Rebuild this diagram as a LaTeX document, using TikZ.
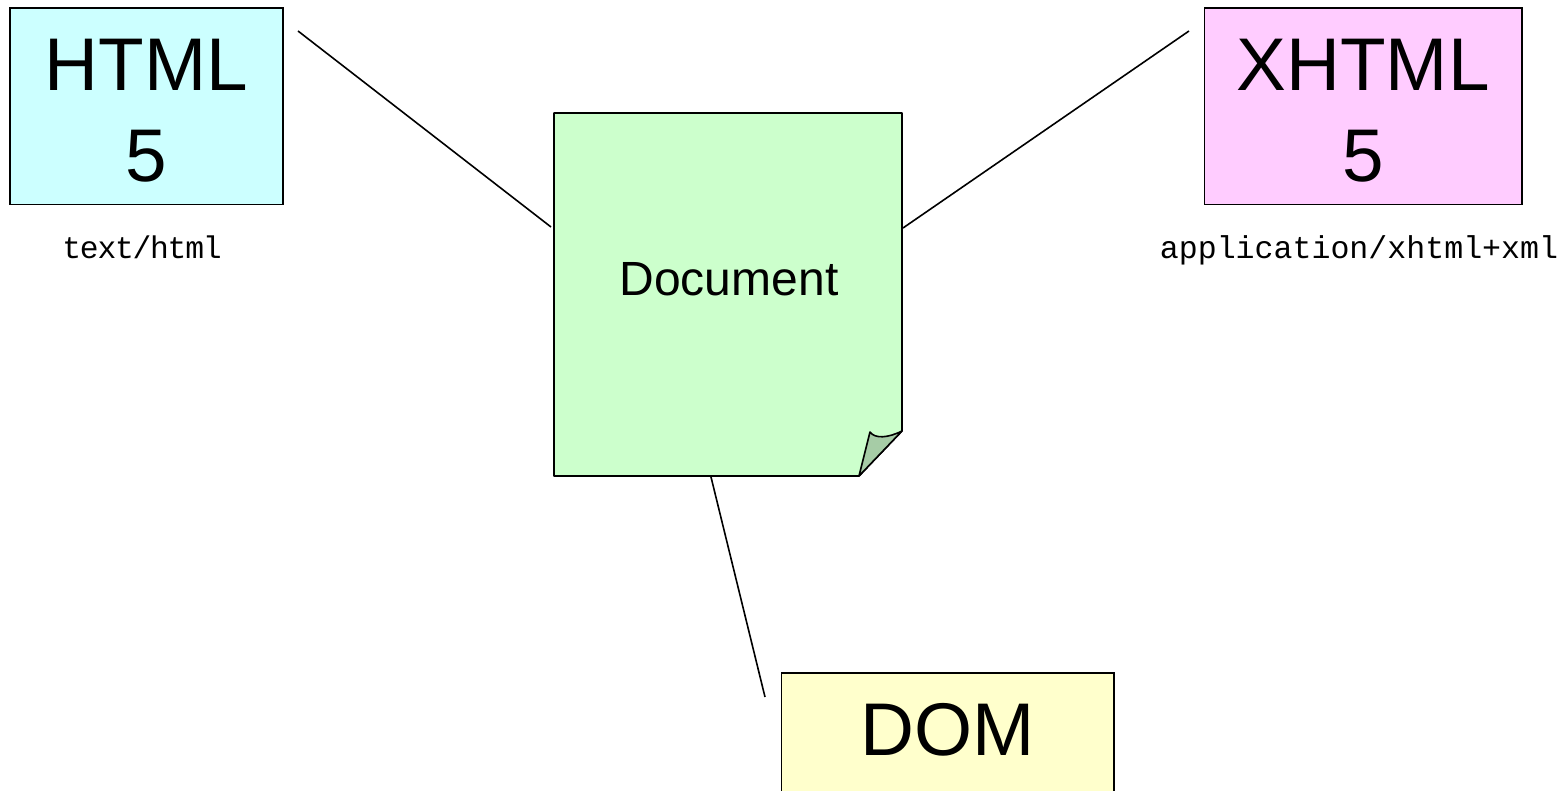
\documentclass[tikz,border=0pt]{standalone}
\usepackage{fontspec}
\setmainfont{Liberation Sans}
\newfontfamily\labelmono{Liberation Mono}
\newfontfamily\labelmonotight[LetterSpace=-4]{Liberation Mono}
\tikzset{
  px/.style={x=0.75pt,y=-0.75pt},
  boxnode/.style={draw=black,line width=1.2pt,outer sep=0pt,inner sep=0pt,align=center,anchor=north west,font=\fontsize{56}{68.25}\selectfont},
  typelabel/.style={inner sep=0pt,anchor=base},
  linkline/.style={draw=black,line width=1.2pt},
  paper/.style={draw=black,line width=1.2pt,line join=round},
}
\definecolor{htmlc}{HTML}{CCFFFF}
\definecolor{xhtmlc}{HTML}{FFCCFF}
\definecolor{docc}{HTML}{CCFFCC}
\definecolor{foldc}{HTML}{A6CCA6}
\definecolor{domc}{HTML}{FFFFCC}
\begin{document}
\begin{tikzpicture}[px]
\useasboundingbox (0,0) rectangle (1568,791);
\clip (0,0) rectangle (1568,791);
% boxes
\node[boxnode,fill=htmlc,minimum width=204.4pt,minimum height=147.4pt] (html) at (10.2,8) {\rule{0pt}{44.5pt}HTML\\5};
\node[boxnode,fill=xhtmlc,minimum width=238.2pt,minimum height=147.4pt] (xhtml) at (1204.3,8) {\rule{0pt}{44.5pt}XHTML\\5};
\node[boxnode,fill=domc,minimum width=249.6pt,minimum height=126pt] (dom) at (781.3,673) {\rule[-47pt]{0pt}{92pt}DOM};
% document
\node[minimum width=261pt,minimum height=272.25pt,inner sep=0pt,outer sep=0pt,anchor=north west] (doc) at (554,113) {};
\draw[paper,fill=docc] (doc.north west) -- (doc.north east) -- (902,431) -- (859,476) -- (doc.south west) -- cycle;
\draw[paper,fill=foldc] (859,476) -- (870,432) .. controls (875,439) and (888,438) .. (902,431) -- cycle;
\node[inner sep=0pt,anchor=base,font=\fontsize{36}{43}\selectfont] (doctext) at (729,295.5) {Document};
% labels
\node[typelabel,font=\labelmonotight\fontsize{23.5}{28}\selectfont] (htmltype) at (142,259) {text/html};
\node[typelabel,font=\labelmono\fontsize{23.7}{28}\selectfont] (xhtmltype) at (1359,259) {application/xhtml+xml};
% connector ends
\coordinate (htmlend) at (298,31);
\coordinate (docleft) at (551,227);
\coordinate (xhtmlend) at (1189,31);
\coordinate (docright) at (903,228);
\coordinate (docbottom) at (711,477);
\coordinate (domend) at (765,697);
\draw[linkline] (htmlend) -- (docleft);
\draw[linkline] (xhtmlend) -- (docright);
\draw[linkline] (docbottom) -- (domend);
\end{tikzpicture}
\end{document}
